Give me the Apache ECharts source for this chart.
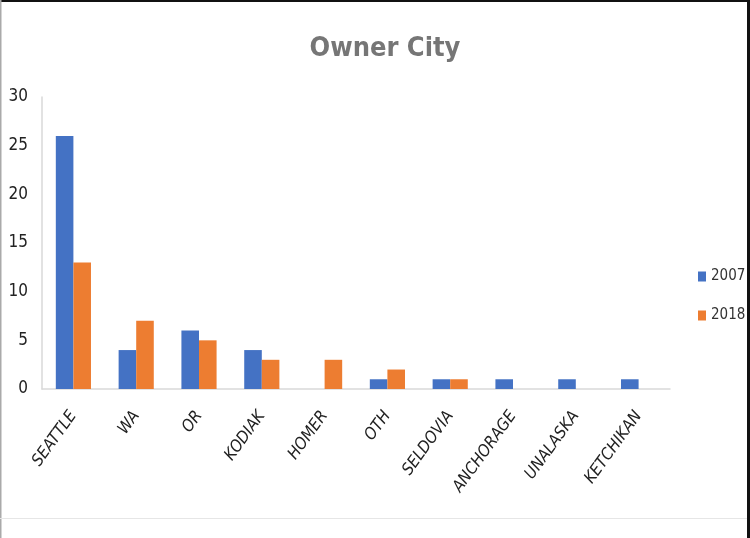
<!DOCTYPE html>
<html><head><meta charset="utf-8">
<script src="https://cdn.jsdelivr.net/npm/echarts@6/dist/echarts.min.js"></script>
<style>html,body{margin:0;padding:0;background:#fff}#c{width:750px;height:538px}</style>
</head><body><div id="c"></div>
<script>
const categories = ['SEATTLE','WA','OR','KODIAK','HOMER','OTH','SELDOVIA','ANCHORAGE','UNALASKA','KETCHIKAN'];
const values2007 = [26,4,6,4,0,1,1,1,1,1];
const values2018 = [13,7,5,3,3,2,1,0,0,0];
const yTicks = {min:0, max:30, interval:5};
const FONT = '"DejaVu Sans Condensed","Liberation Sans Narrow","Liberation Sans",sans-serif';
const chart = echarts.init(document.getElementById('c'));
chart.setOption({
  animation:false,
  title:{text:'Owner City', left:380, textAlign:'center', top:30,
    textStyle:{color:'#767676', fontSize:27, fontWeight:'bold', fontFamily:FONT}},
  legend:{orient:'vertical', left:693, top:264, itemGap:24, itemWidth:8, itemHeight:10,
    icon:'rect', textStyle:{color:'#333', fontSize:15, fontFamily:FONT}, data:['2007','2018']},
  grid:{left:42, right:80, top:97, bottom:149, containLabel:false},
  xAxis:{type:'category', data:categories,
    axisLine:{lineStyle:{color:'#d9d9d9', width:1.5}}, axisTick:{show:false},
    axisLabel:{rotate:54, color:'#222', fontSize:16.5, fontStyle:'italic', fontFamily:FONT, margin:24, interval:0}},
  yAxis:{type:'value', min:yTicks.min, max:yTicks.max, interval:yTicks.interval,
    axisLine:{show:true, lineStyle:{color:'#d9d9d9', width:1.5}}, axisTick:{show:false},
    splitLine:{show:false},
    axisLabel:{color:'#222', fontSize:17, fontFamily:FONT, margin:14}},
  series:[
    {name:'2007', type:'bar', data:values2007, barGap:'0%', barCategoryGap:'44%', itemStyle:{color:'#4472C4'}},
    {name:'2018', type:'bar', data:values2018, barGap:'0%', barCategoryGap:'44%', itemStyle:{color:'#ED7D31'}}
  ],
  graphic:[
    {type:'rect', shape:{x:0,y:0,width:750,height:2}, style:{fill:'#111'}},
    {type:'rect', shape:{x:747,y:0,width:3,height:538}, style:{fill:'#111'}},
    {type:'rect', shape:{x:0,y:0,width:1.5,height:538}, style:{fill:'#aaa'}},
    {type:'rect', shape:{x:0,y:518,width:747,height:1}, style:{fill:'#e6e6e6'}}
  ]
});
</script></body></html>
